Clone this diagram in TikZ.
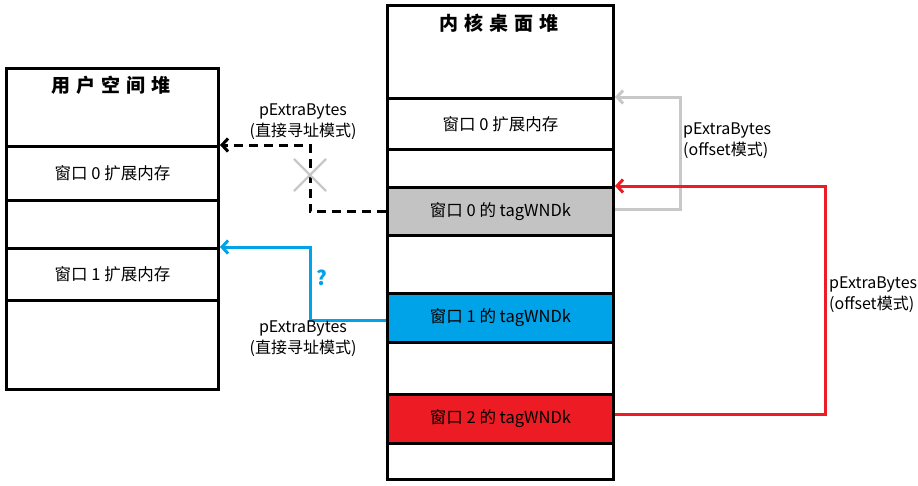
\documentclass[tikz,border=0pt]{standalone}
\usepackage{fontspec}
\setmainfont{Noto Sans CJK SC}
\usetikzlibrary{arrows.meta,shapes.misc}

\definecolor{cellgray}{RGB}{195,195,195}
\definecolor{cellblue}{RGB}{0,162,232}
\definecolor{cellred}{RGB}{237,28,36}
\definecolor{linkgray}{RGB}{200,200,200}

\tikzstyle{cell}=[draw,line width=3pt,inner sep=0pt,anchor=north west,font=\fontsize{16.5}{18}\selectfont]
\tikzstyle{heading}=[inner sep=0pt,font=\fontsize{19}{20}\selectfont\bfseries]
\tikzstyle{link}=[line width=3pt,-{Straight Barb[length=6pt,width=13pt]}]
\tikzstyle{note}=[align=center,inner sep=0pt,font=\fontsize{16}{21}\selectfont]

\begin{document}
\begin{tikzpicture}[x=1pt,y=-1pt]
			\useasboundingbox (0,0) rectangle (918,485);
			%Adding the user space heap
			\foreach \pos/\h/\name/\col/\txt in {{(5,67)/78/utop/white/},
									{(5,145)/54/uext0/white/窗口 0 扩展内存},
									{(5,199)/48/ugap0/white/},
									{(5,247)/52/uext1/white/窗口 1 扩展内存},
									{(5,299)/89/ugap1/white/}}
			\node[cell,fill=\col,minimum width=212pt,minimum height=\h pt] (\name) at \pos {\txt};
			\node[heading] (utitle) at (111,85) {用\hspace{6pt}户\hspace{6pt}空\hspace{6pt}间\hspace{6pt}堆};
			%Adding the kernel desktop heap
			\foreach \pos/\h/\name/\col/\txt in {{(386,4)/93/ktop/white/},
									{(386,97)/51/kext0/white/窗口 0 扩展内存},
									{(386,148)/38/kgap0/white/},
									{(386,186)/48/ktag0/cellgray/窗口 0 的 tagWNDk},
									{(386,234)/58/kgap1/white/},
									{(386,292)/49/ktag1/cellblue/窗口 1 的 tagWNDk},
									{(386,341)/52/kgap2/white/},
									{(386,393)/49/ktag2/cellred/窗口 2 的 tagWNDk},
									{(386,442)/36/kgap3/white/}}
			\node[cell,fill=\col,minimum width=226pt,minimum height=\h pt] (\name) at \pos {\txt};
			\node[heading] (ktitle) at (499,23) {内\hspace{6pt}核\hspace{6pt}桌\hspace{6pt}面\hspace{6pt}堆};
			%Adding the links
			\draw[link,dash pattern=on 9pt off 6pt] (ktag0.west) -- ++(-76,0) |- (uext0.north east);
			\node[cross out,draw=linkgray,line width=2.2pt,minimum size=30pt,inner sep=0pt] (nomatch) at (310,175) {};
			\draw[link,cellblue] ([yshift=-2pt]ktag1.west) -- ++(-76,0) |- (uext1.north east);
			\node[text=cellblue,inner sep=0pt,font=\fontsize{20}{20}\selectfont\bfseries] (unsure) at (322,278) {?};
			\draw[link,linkgray] ([yshift=2pt]ktag0.east) -- ++(65,0) |- (kext0.north east);
			\draw[link,cellred] ([yshift=5pt]ktag2.east) -- ++(210,0) |- (ktag0.north east);
			%Adding the labels
			\node[note] (direct0) at (303,122) {pExtraBytes\\(直接寻址模式)};
			\node[note] (direct1) at (303,339) {pExtraBytes\\(直接寻址模式)};
			\node[note,align=left,anchor=west] (offset0) at (683,141) {pExtraBytes\\(offset模式)};
			\node[note,align=left,anchor=west] (offset2) at (829,295) {pExtraBytes\\(offset模式)};
		\end{tikzpicture}
\end{document}
